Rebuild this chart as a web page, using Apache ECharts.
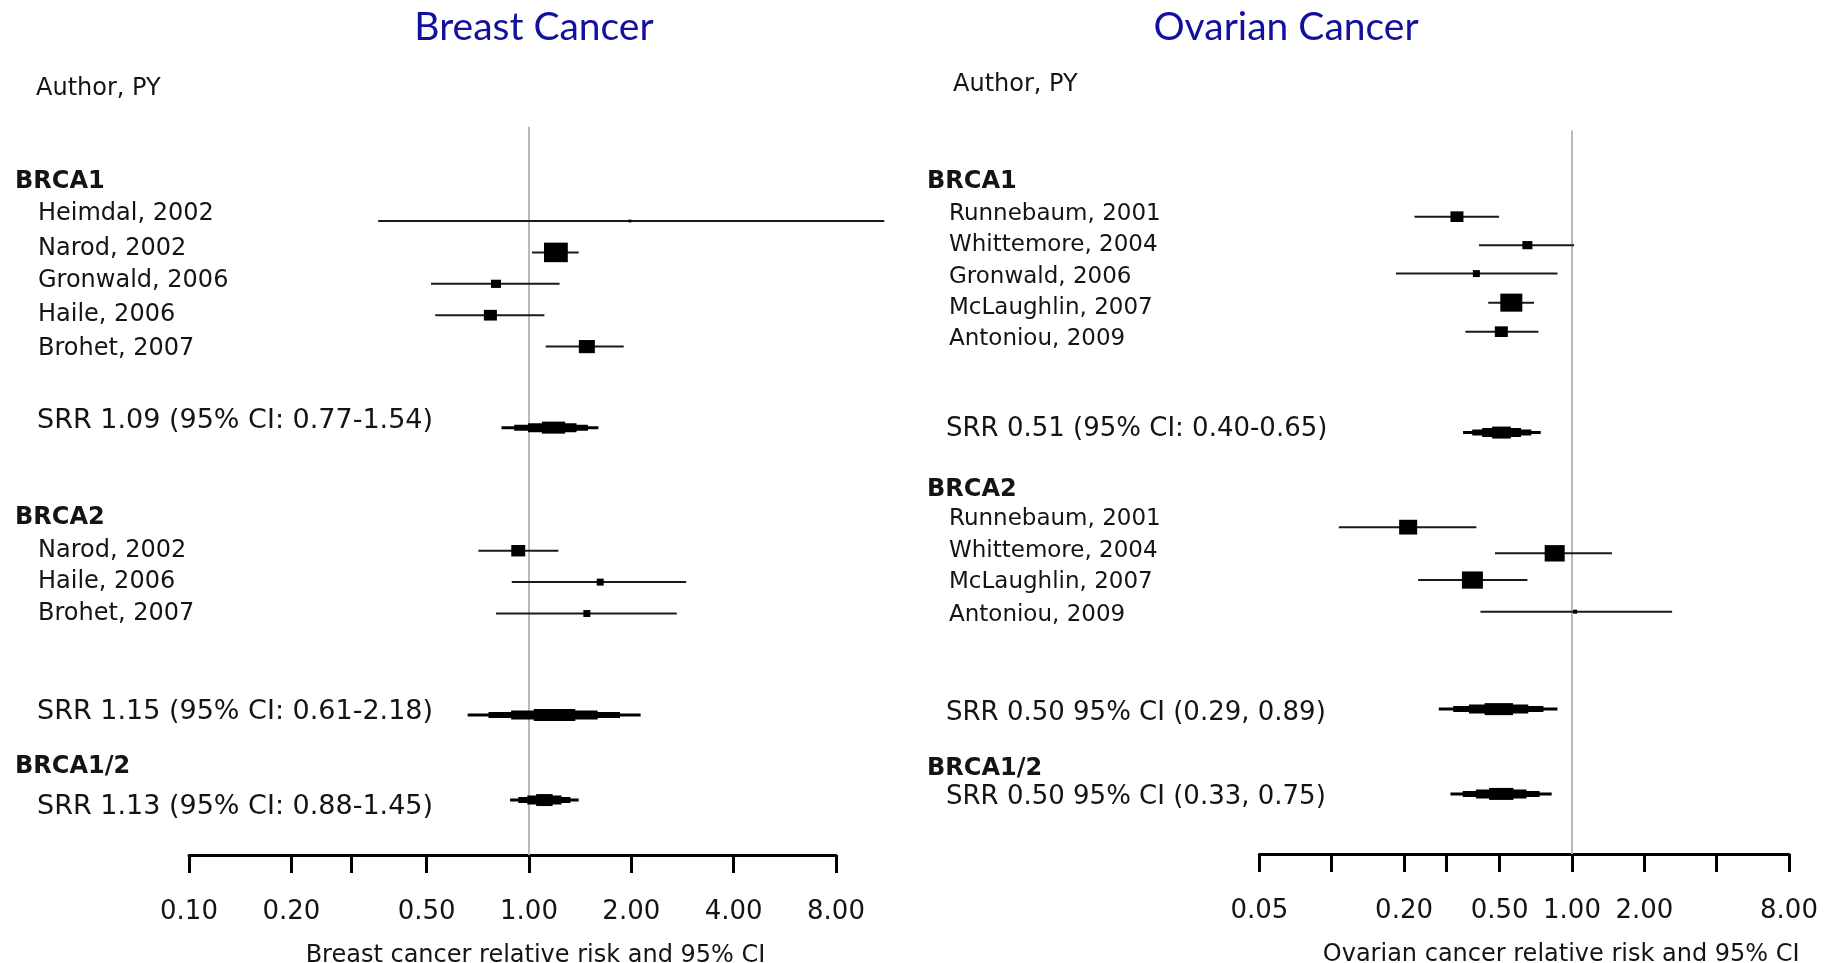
<!DOCTYPE html>
<html><head><meta charset="utf-8">
<script src="https://cdn.jsdelivr.net/npm/echarts@6/dist/echarts.min.js"></script>
<style>html,body{margin:0;padding:0;background:#fff}#c{width:1827px;height:963px}</style>
</head><body><div id="c"></div>
<script>
// ---------------- Breast cancer panel ----------------
const breastStudyRR   = [1.98, 1.20, 0.80, 0.77, 1.48, 0.93, 1.62, 1.48];
const breastStudyLo   = [0.36, 1.02, 0.515, 0.53, 1.12, 0.71, 0.89, 0.80];
const breastStudyHi   = [11.1, 1.40, 1.23, 1.11, 1.90, 1.22, 2.90, 2.72];
const breastWeight    = [0.3, 21.0, 3.7, 6.3, 9.5, 7.2, 1.8, 1.8];
const breastStudyRow  = [3, 4, 5, 6, 7, 13.5, 14.5, 15.5];
const breastPooledRR  = [1.19, 1.19, 1.11];
const breastPooledLo  = [0.83, 0.66, 0.88];
const breastPooledHi  = [1.60, 2.13, 1.40];
const breastPooledRow = [9.58, 18.73, 21.44];
const breastLabels = ['Author, PY','BRCA1','Heimdal, 2002','Narod, 2002','Gronwald, 2006','Haile, 2006','Brohet, 2007',
  'SRR 1.09 (95% CI: 0.77-1.54)','BRCA2','Narod, 2002','Haile, 2006','Brohet, 2007',
  'SRR 1.15 (95% CI: 0.61-2.18)','BRCA1/2','SRR 1.13 (95% CI: 0.88-1.45)'];
const breastLabelKind = ['author','head','study','study','study','study','study','sum','head','study','study','study','sum','head','sum'];
const breastLabelRow  = [-1.22, 1.74, 2.77, 3.87, 4.91, 5.99, 7.06, 9.36, 12.46, 13.49, 14.49, 15.5, 18.64, 20.37, 21.65];
const breastTicks      = [0.1, 0.2, 0.3, 0.5, 1, 2, 4, 8];
const breastTickLabels = [0.1, 0.2, 0.5, 1, 2, 4, 8];

// ---------------- Ovarian cancer panel ----------------
const ovarianStudyRR   = [0.332, 0.652, 0.40, 0.559, 0.508, 0.208, 0.847, 0.385, 1.03];
const ovarianStudyLo   = [0.221, 0.41, 0.185, 0.448, 0.36, 0.107, 0.478, 0.229, 0.416];
const ovarianStudyHi   = [0.497, 1.02, 0.87, 0.695, 0.725, 0.40, 1.466, 0.652, 2.61];
const ovarianWeight    = [6.25, 3.7, 1.8, 17.9, 6.25, 12.0, 14.8, 16.3, 0.6];
const ovarianStudyRow  = [3.0, 3.99, 4.98, 5.99, 7.0, 13.8, 14.71, 15.64, 16.74];
const ovarianPooledRR  = [0.508, 0.497, 0.508];
const ovarianPooledLo  = [0.352, 0.279, 0.312];
const ovarianPooledHi  = [0.741, 0.87, 0.823];
const ovarianPooledRow = [10.51, 20.13, 23.08];
const ovarianLabels = ['Author, PY','BRCA1','Runnebaum, 2001','Whittemore, 2004','Gronwald, 2006','McLaughlin, 2007','Antoniou, 2009',
  'SRR 0.51 (95% CI: 0.40-0.65)','BRCA2','Runnebaum, 2001','Whittemore, 2004','McLaughlin, 2007','Antoniou, 2009',
  'SRR 0.50 95% CI (0.29, 0.89)','BRCA1/2','SRR 0.50 95% CI (0.33, 0.75)'];
const ovarianLabelKind = ['author','head','study','study','study','study','study','sum','head','study','study','study','study','sum','head','sum'];
const ovarianLabelRow  = [-1.59, 1.78, 2.92, 4.0, 5.11, 6.19, 7.25, 10.39, 12.51, 13.53, 14.63, 15.72, 16.86, 20.28, 22.22, 23.2];
const ovarianTicks      = [0.05, 0.1, 0.2, 0.3, 0.5, 1, 2, 4, 8];
const ovarianTickLabels = [0.05, 0.2, 0.5, 1, 2, 8];

// ---------------- rendering ----------------
const FONT = '"DejaVu Sans", Verdana, sans-serif';
const TXT = '#141414';
const chart = echarts.init(document.getElementById('c'), null, {renderer: 'canvas'});

function boxSide(w) { return 5.2 * Math.sqrt(w); }

const panels = [
  {name: 'breast', title: 'Breast Cancer', titleX: 534, axisName: 'Breast cancer relative risk and 95% CI', namePad: 46,
   grid: {left: 189, width: 647, top: 126.8, height: 728.2}, yMax: 23.19, xMin: 0.1, xMax: 8,
   rr: breastStudyRR, lo: breastStudyLo, hi: breastStudyHi, w: breastWeight, row: breastStudyRow,
   prr: breastPooledRR, plo: breastPooledLo, phi: breastPooledHi, prow: breastPooledRow,
   labels: breastLabels, kind: breastLabelKind, lrow: breastLabelRow,
   ticks: breastTicks, tickLabels: breastTickLabels,
   textX: {author: 36, head: 15, study: 38, sum: 37},
   textSize: {author: 24, head: 24, study: 24, sum: 27}},
  {name: 'ovarian', title: 'Ovarian Cancer', titleX: 1286, axisName: 'Ovarian cancer relative risk and 95% CI', namePad: 74,
   grid: {left: 1259.4, width: 529.6, top: 130.45, height: 723.55}, yMax: 25.17, xMin: 0.05, xMax: 8,
   rr: ovarianStudyRR, lo: ovarianStudyLo, hi: ovarianStudyHi, w: ovarianWeight, row: ovarianStudyRow,
   prr: ovarianPooledRR, plo: ovarianPooledLo, phi: ovarianPooledHi, prow: ovarianPooledRow,
   labels: ovarianLabels, kind: ovarianLabelKind, lrow: ovarianLabelRow,
   ticks: ovarianTicks, tickLabels: ovarianTickLabels,
   textX: {author: 953, head: 927, study: 949, sum: 946},
   textSize: {author: 24, head: 24, study: 23, sum: 26}}
];

const option = {
  animation: false,
  backgroundColor: '#fff',
  title: panels.map(p => ({
    text: p.title, left: p.titleX, top: 8, textAlign: 'center', padding: 0,
    textStyle: {fontFamily: 'Lato, "Open Sans", sans-serif', fontWeight: 'normal', fontSize: 39, color: '#11119e'}
  })),
  grid: panels.map(p => Object.assign({containLabel: false, outerBoundsMode: 'none'}, p.grid)),
  xAxis: panels.map((p, gi) => ({
    type: 'log', logBase: 10, gridIndex: gi, min: p.xMin, max: p.xMax, position: 'bottom',
    name: p.axisName, nameLocation: 'middle', nameGap: 89,
    nameTextStyle: {fontFamily: FONT, fontSize: 24, color: TXT, padding: [0, 0, 0, p.namePad]},
    axisLine: {show: true, onZero: false, lineStyle: {color: '#000', width: 3}},
    axisTick: {show: true, customValues: p.ticks, length: 18, lineStyle: {color: '#000', width: 3}},
    axisLabel: {show: true, customValues: p.tickLabels, margin: 44, fontFamily: FONT, fontSize: 26, color: TXT,
      formatter: v => Number(v).toFixed(2)},
    splitLine: {show: false}, minorTick: {show: false}
  })),
  yAxis: panels.map((p, gi) => ({
    type: 'value', gridIndex: gi, inverse: true, min: 0, max: p.yMax, show: false, splitLine: {show: false}
  })),
  series: []
};

panels.forEach((p, gi) => {
  // reference line at RR = 1
  option.series.push({
    type: 'scatter', xAxisIndex: gi, yAxisIndex: gi, data: [], z: 1, silent: true,
    markLine: {symbol: 'none', silent: true, label: {show: false}, animation: false,
      lineStyle: {color: '#b9b9b9', width: 2, type: 'solid'}, data: [{xAxis: 1}]}
  });
  // individual studies
  option.series.push({
    type: 'custom', xAxisIndex: gi, yAxisIndex: gi, z: 5, clip: false, silent: true,
    data: p.rr.map((v, i) => [v, p.row[i], p.lo[i], p.hi[i], p.w[i]]),
    renderItem: (params, api) => {
      const c = api.coord([api.value(0), api.value(1)]);
      const l = api.coord([api.value(2), api.value(1)]);
      const h = api.coord([api.value(3), api.value(1)]);
      const s = boxSide(api.value(4));
      const bh = s > 9 ? s * 0.82 : s;
      return {type: 'group', children: [
        {type: 'line', shape: {x1: l[0], y1: c[1], x2: h[0], y2: c[1]}, style: {stroke: '#1a1a1a', lineWidth: 2}},
        {type: 'rect', shape: {x: c[0] - s / 2, y: c[1] - bh / 2, width: s, height: bh}, style: {fill: '#000'}}
      ]};
    }
  });
  // pooled estimates (stepped diamonds)
  option.series.push({
    type: 'custom', xAxisIndex: gi, yAxisIndex: gi, z: 5, clip: false, silent: true,
    data: p.prr.map((v, i) => [v, p.prow[i], p.plo[i], p.phi[i]]),
    renderItem: (params, api) => {
      const c = api.coord([api.value(0), api.value(1)]);
      const l = api.coord([api.value(2), api.value(1)]);
      const h = api.coord([api.value(3), api.value(1)]);
      const fr = [1, 0.76, 0.5, 0.24];
      const hts = [3, 6, 9, 12];
      return {type: 'group', children: fr.map((f, k) => {
        const x1 = c[0] - f * (c[0] - l[0]);
        const x2 = c[0] + f * (h[0] - c[0]);
        return {type: 'rect', shape: {x: x1, y: c[1] - hts[k] / 2, width: x2 - x1, height: hts[k]}, style: {fill: '#000'}};
      })};
    }
  });
  // row labels
  option.series.push({
    type: 'custom', xAxisIndex: gi, yAxisIndex: gi, z: 6, clip: false, silent: true,
    data: p.lrow.map((r, i) => [1, r, i]),
    renderItem: (params, api) => {
      const i = api.value(2);
      const y = api.coord([1, api.value(1)])[1];
      const k = p.kind[i];
      return {type: 'text', x: p.textX[k], y: y, style: {
        text: p.labels[i], fontFamily: FONT, fontSize: p.textSize[k], fontWeight: k === 'head' ? 'bold' : 'normal',
        fill: TXT, align: 'left', verticalAlign: 'middle'}};
    }
  });
});

chart.setOption(option);
</script>
</body></html>
